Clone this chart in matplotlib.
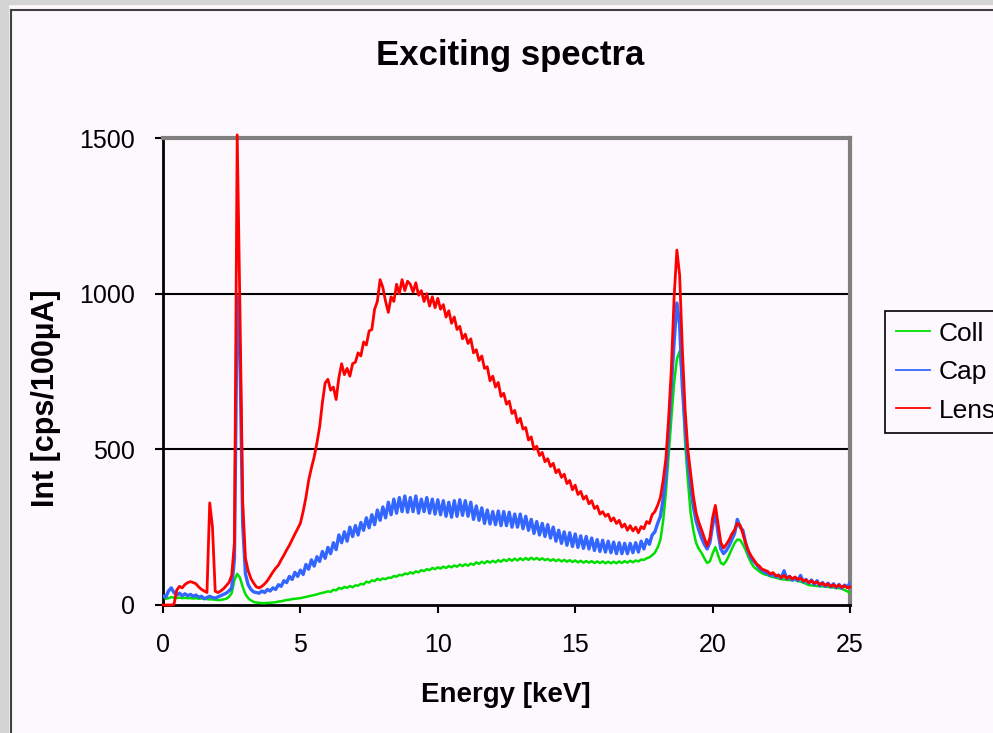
import numpy as np
import matplotlib
matplotlib.use("Agg")
import matplotlib.pyplot as plt
from matplotlib.patches import Rectangle
from matplotlib.lines import Line2D

plt.rcParams['font.family'] = ['Liberation Sans', 'DejaVu Sans']

# energy channels, 0.1 keV apart
energy = np.round(np.linspace(0, 25, 251), 1)

# Lens (red), cps/100uA
lens = [
    0, 0, 0, 0, 2, 48, 60, 55, 66, 72,
    75, 72, 68, 58, 50, 45, 40, 328, 250, 44,
    40, 45, 52, 62, 72, 95, 200, 1510, 950, 330,
    150, 110, 85, 70, 58, 55, 60, 68, 78, 92,
    106, 118, 128, 145, 160, 177, 192, 210, 228, 245,
    263, 300, 345, 400, 440, 475, 520, 572, 650, 713,
    725, 690, 700, 660, 730, 775, 740, 760, 735, 775,
    780, 810, 800, 845, 835, 880, 885, 950, 975, 1045,
    1020, 975, 940, 990, 975, 1030, 1000, 1045, 1010, 1040,
    1030, 1005, 1035, 995, 1010, 975, 1000, 960, 990, 955,
    985, 950, 965, 925, 945, 905, 925, 885, 895, 855,
    870, 840, 855, 810, 820, 785, 800, 760, 765, 720,
    735, 700, 715, 670, 680, 645, 655, 615, 625, 585,
    600, 565, 570, 530, 540, 500, 510, 480, 490, 460,
    470, 445, 455, 425, 435, 410, 420, 390, 400, 370,
    385, 355, 365, 340, 350, 325, 335, 310, 318, 292,
    300, 285, 292, 270, 280, 262, 272, 250, 260, 240,
    255, 238, 250, 232, 252, 245, 268, 262, 290, 300,
    320, 345, 400, 470, 600, 760, 990, 1140, 1060, 820,
    626, 498, 424, 350, 296, 265, 241, 215, 190, 215,
    280, 320, 260, 200, 183, 195, 209, 228, 241, 262,
    257, 230, 199, 175, 158, 145, 132, 125, 115, 112,
    108, 100, 104, 94, 96, 88, 95, 86, 92, 84,
    90, 82, 86, 78, 80, 72, 78, 70, 74, 66,
    70, 63, 68, 60, 65, 58, 64, 57, 62, 55,
    58]

# Cap (blue)
cap = [
    30, 25, 45, 55, 40, 32, 38, 30, 36, 30,
    34, 28, 32, 25, 28, 20, 24, 28, 24, 22,
    26, 30, 34, 38, 45, 55, 150, 990, 800, 260,
    100, 65, 50, 42, 40, 38, 45, 40, 50, 45,
    55, 50, 65, 60, 78, 72, 92, 82, 105, 92,
    112, 98, 130, 115, 145, 125, 155, 140, 172, 150,
    185, 165, 200, 178, 225, 200, 235, 205, 250, 220,
    255, 225, 265, 240, 280, 248, 290, 258, 305, 272,
    315, 280, 330, 290, 340, 295, 345, 300, 350, 298,
    345, 300, 350, 295, 340, 300, 345, 295, 340, 292,
    338, 290, 335, 285, 330, 282, 335, 285, 338, 288,
    335, 285, 330, 275, 318, 272, 312, 262, 305, 260,
    300, 258, 302, 255, 300, 255, 298, 250, 292, 250,
    292, 245, 285, 240, 275, 230, 268, 225, 262, 220,
    258, 215, 250, 205, 240, 198, 235, 192, 232, 188,
    228, 185, 222, 182, 220, 180, 215, 175, 210, 172,
    208, 170, 205, 168, 202, 165, 200, 165, 198, 165,
    198, 168, 200, 170, 205, 180, 210, 195, 225, 235,
    262, 285, 340, 410, 560, 700, 845, 970, 900, 700,
    572, 460, 380, 315, 270, 240, 215, 195, 180, 200,
    255, 300, 230, 180, 165, 175, 190, 210, 230, 275,
    250, 240, 200, 170, 150, 140, 130, 118, 112, 105,
    102, 95, 100, 90, 96, 86, 110, 84, 92, 80,
    88, 78, 95, 74, 82, 70, 80, 66, 78, 62,
    72, 60, 70, 58, 68, 55, 66, 54, 64, 58,
    70]

# Coll (green)
coll = [
    30, 20, 22, 25, 24, 22, 24, 22, 23, 22,
    22, 21, 22, 20, 21, 20, 19, 18, 18, 17,
    16, 16, 18, 20, 26, 38, 80, 100, 88, 58,
    35, 22, 15, 10, 8, 7, 6, 6, 7, 7,
    8, 9, 11, 12, 14, 16, 17, 19, 20, 21,
    22, 24, 26, 28, 30, 32, 34, 37, 39, 41,
    44, 42, 49, 47, 55, 52, 58, 55, 61, 57,
    63, 62, 68, 66, 75, 72, 79, 77, 84, 80,
    85, 83, 88, 87, 93, 91, 97, 95, 101, 99,
    105, 101, 108, 105, 112, 109, 115, 112, 119, 115,
    121, 117, 123, 119, 125, 121, 127, 123, 130, 125,
    131, 126, 133, 129, 137, 132, 139, 134, 141, 136,
    142, 137, 144, 139, 146, 141, 148, 142, 149, 143,
    150, 144, 151, 145, 152, 146, 151, 145, 150, 144,
    148, 142, 147, 141, 146, 140, 145, 139, 144, 138,
    143, 137, 142, 136, 141, 136, 141, 135, 140, 135,
    140, 134, 139, 134, 139, 134, 140, 135, 141, 136,
    142, 137, 143, 140, 146, 145, 150, 153, 160, 168,
    185, 209, 270, 360, 480, 600, 713, 790, 815, 720,
    520, 400, 296, 240, 199, 180, 167, 150, 135, 140,
    165, 186, 160, 135, 130, 142, 160, 180, 199, 210,
    209, 195, 177, 155, 136, 122, 115, 108, 102, 98,
    96, 92, 90, 88, 85, 83, 82, 81, 80, 80,
    80, 77, 75, 72, 68, 64, 63, 62, 61, 60,
    60, 59, 58, 57, 56, 55, 54, 52, 48, 44,
    38]

x_ticks = [0, 5, 10, 15, 20, 25]
y_ticks = [0, 500, 1000, 1500]

bg = '#FDF8FD'
W, H = 993, 733

fig = plt.figure(figsize=(W / 100, H / 100), dpi=100, facecolor=bg)

# window frame of the screenshot
fig.patches.append(Rectangle((0, 0), 8 / W, 1, transform=fig.transFigure,
                             color='#D4D4D4', zorder=0))
fig.patches.append(Rectangle((0, 1 - 4 / H), 1, 4 / H, transform=fig.transFigure,
                             color='#D4D4D4', zorder=0))
fig.lines.append(Line2D([11 / W, 11 / W], [0, 1 - 10 / H], transform=fig.transFigure,
                        color='#404040', lw=1.5))
fig.lines.append(Line2D([11 / W, 1], [1 - 10 / H, 1 - 10 / H], transform=fig.transFigure,
                        color='#404040', lw=1.5))

ax = fig.add_axes([163 / W, 1 - 605 / H, 687 / W, 467 / H])
ax.set_facecolor(bg)

ax.plot(energy, coll, color='#00E000', lw=1.8, label='Coll', zorder=3)
ax.plot(energy, cap, color='#3366FF', lw=2.4, label='Cap', zorder=4)
ax.plot(energy, lens, color='#FF0000', lw=2.0, label='Lens', zorder=5, clip_on=False)

for level in (500, 1000):
    ax.axhline(level, color='black', lw=1.5, zorder=1)

ax.set_xlim(0, 25)
ax.set_ylim(0, 1500)
ax.set_xticks(x_ticks)
ax.set_yticks(y_ticks)
ax.tick_params(axis='both', direction='out', length=6, width=1.5, labelsize=18)
ax.tick_params(axis='y', pad=14)
ax.tick_params(axis='x', pad=14)

for side in ('left', 'bottom'):
    ax.spines[side].set_color('black')
    ax.spines[side].set_linewidth(2)
for side in ('top', 'right'):
    ax.spines[side].set_color('#808080')
    ax.spines[side].set_linewidth(3)

fig.text(510 / W, 1 - 56 / H, 'Exciting spectra', ha='center', va='center',
         fontsize=25, fontweight='bold')
fig.text(506 / W, 1 - 695 / H, 'Energy [keV]', ha='center', va='center',
         fontsize=20, fontweight='bold')
fig.text(46 / W, 1 - 398 / H, 'Int [cps/100µA]', ha='center', va='center',
         rotation=90, fontsize=22, fontweight='bold')

leg = fig.legend(loc='upper left', bbox_to_anchor=(885 / W, 1 - 311 / H),
                 fontsize=19, frameon=True, fancybox=False, edgecolor='black',
                 facecolor=bg, framealpha=1, borderaxespad=0, borderpad=0.4,
                 labelspacing=0.55, handlelength=1.3, handletextpad=0.35)
leg.get_frame().set_linewidth(1.2)
for line in leg.get_lines():
    line.set_linewidth(1.3)

fig.savefig('out.png', dpi=100, facecolor=bg)
